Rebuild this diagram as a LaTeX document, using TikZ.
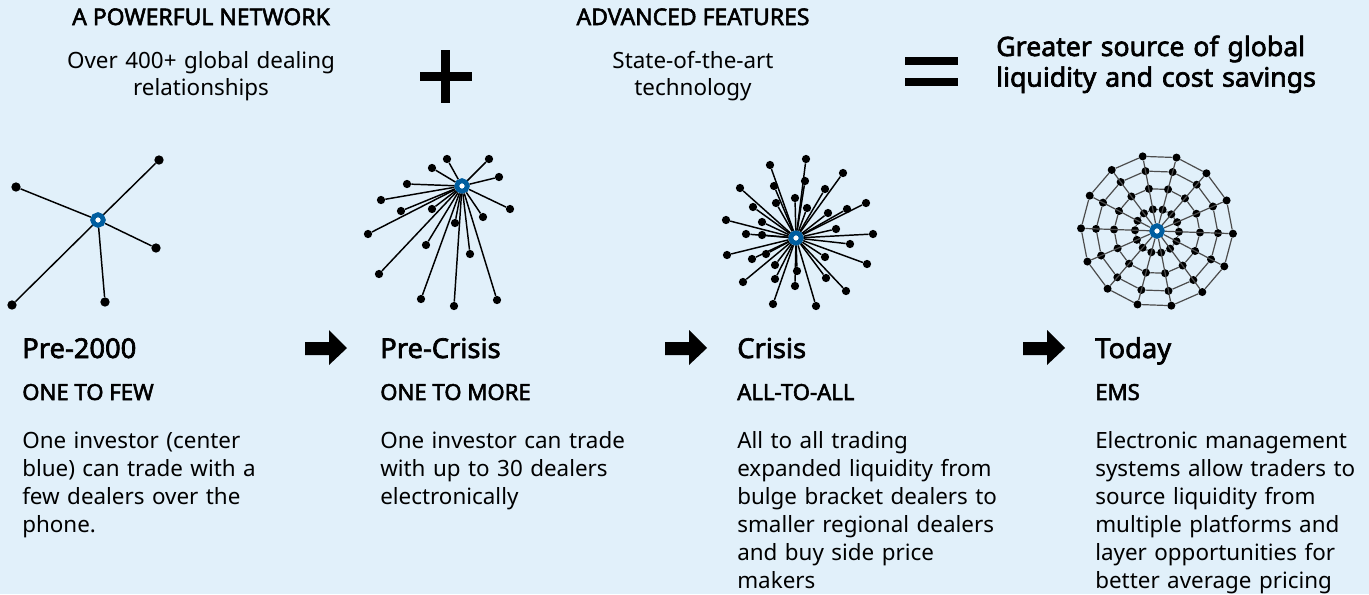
\documentclass[tikz,border=0pt]{standalone}
\usepackage{fontspec}
\setmainfont{Noto Sans}[BoldFont={Noto Sans},BoldFeatures={FakeBold=2.4}]
\definecolor{bgblue}{RGB}{225,240,250}
\definecolor{hubblue}{RGB}{0,94,160}
\begin{document}
\begin{tikzpicture}[x=0.75pt,y=-0.75pt,
  hub/.style={circle,fill=white,draw=hubblue,line width=3.6pt,inner sep=0pt,minimum size=8pt},
  bigdot/.style={circle,fill=black,inner sep=0pt,minimum size=7pt},
  dot/.style={circle,fill=black,inner sep=0pt,minimum size=6.2pt},
  wdot/.style={circle,fill=black,inner sep=0pt,minimum size=6pt},
  link/.style={line width=1.1pt,black},
  wlink/.style={line width=0.9pt,black!70},
  hdr/.style={font=\bfseries\fontsize{17.2}{20}\selectfont,anchor=base,inner sep=0pt},
  toptxt/.style={font=\fontsize{16.8}{20.5}\selectfont,anchor=base,align=center,text width=300pt,inner sep=0pt},
  title/.style={font=\bfseries\fontsize{20.5}{24}\selectfont,anchor=base west,inner sep=0pt},
  subt/.style={font=\bfseries\fontsize{16.6}{18}\selectfont,anchor=base west,inner sep=0pt},
  body/.style={font=\fontsize{16.8}{21}\selectfont,anchor=base west,align=left,text width=200pt,inner sep=0pt},
  blockarrow/.style={fill=black}
]
\useasboundingbox (0,0) rectangle (1369,594);
\fill[bgblue] (0,0) rectangle (1369,594);

% ---------- top row ----------
\node[hdr] (h1) at (201,25) {A POWERFUL NETWORK};
\node[toptxt] (t1) at (201,68) {Over 400+ global dealing\\relationships};
\node[hdr] (h2) at (693,25) {ADVANCED FEATURES};
\node[toptxt] (t2) at (693,68) {State-of-the-art\\technology};
\fill (441,50) rectangle (450,103);
\fill (420,72) rectangle (472,81);
\fill (905,57) rectangle (958,65);
\fill (905,78) rectangle (958,86);
\node[font=\bfseries\fontsize{20}{23}\selectfont,anchor=base west,align=left,text width=260pt,inner sep=0pt] (res) at (996,56) {Greater source of global\\liquidity and cost savings};

% ---------- Pre-2000 ----------
\node[hub] (c1) at (98,220) {};
\foreach \n/\x/\y in {a/16/187,b/159/160,c/156/248,d/105/302,e/12/305}{
  \node[bigdot] (p1\n) at (\x,\y) {};
  \draw[link] (c1) -- (p1\n);
}

% ---------- Pre-Crisis ----------
\node[hub] (c2) at (462,186) {};
\foreach \n/\x/\y in {a/447/159,b/489/159,c/432/168,d/499/177,e/407/184,f/381/200,g/401/211,h/432/209,i/510/209,j/483/217,k/455/223,l/368/234,m/426/245,n/470/254,o/379/274,p/421/299,q/454/306,r/497/300}{
  \node[dot] (p2\n) at (\x,\y) {};
  \draw[link] (c2) -- (p2\n);
}

% ---------- Crisis ----------
\node[hub] (c3) at (796,238) {};
\foreach \n/\x/\y in {1/806/159,2/770/165,3/843/173,4/740/188,5/774/186,6/805/181,7/825/189,8/795/198,9/776/203,10/753/207,11/807/208,12/866/203,13/847/209,14/828/213,15/726/220,16/762/222,17/836/229,18/746/234,19/762/235,20/873/234,21/850/244,22/727/255,23/766/254,24/752/259,25/825/257,26/867/264,27/775/265,28/797/271,29/826/278,30/775/279,31/743/282,32/795/286,33/846/291,34/773/304,35/816/306}{
  \node[dot] (p3-\n) at (\x,\y) {};
  \draw[link] (c3) -- (p3-\n);
}

% ---------- Today ----------
\node[hub] (c4) at (1157,231) {};
\foreach \i in {0,...,13}{
  \foreach \r/\k in {22/1,43/2,61/3,76/4}{
    \node[wdot] (w\k-\i) at ({1157+\r*cos(\i*360/14-2)},{231-\r*sin(\i*360/14-2)}) {};
  }
}
\foreach \i [evaluate=\i as \j using {int(mod(\i+1,14))}] in {0,...,13}{
  \draw[wlink] (c4) -- (w4-\i);
  \foreach \k in {1,...,4}{
    \draw[wlink] (w\k-\i) -- (w\k-\j);
  }
}

% ---------- arrows ----------
\foreach \ax in {305,665,1023}{
  \fill[blockarrow] (\ax,342) -- (\ax+24,342) -- (\ax+24,330) -- (\ax+42,348) -- (\ax+24,365) -- (\ax+24,355) -- (\ax,355) -- cycle;
}

% ---------- captions ----------
\node[title] (ti1) at (22,358) {Pre-2000};
\node[subt] (st1) at (22,400) {ONE TO FEW};
\node[body] (b1) at (22,448) {One investor (center\\blue) can trade with a\\few dealers over the\\phone.};

\node[title] (ti2) at (380,358) {Pre-Crisis};
\node[subt] (st2) at (380,400) {ONE TO MORE};
\node[body] (b2) at (380,448) {One investor can trade\\with up to 30 dealers\\electronically};

\node[title] (ti3) at (737,358) {Crisis};
\node[subt] (st3) at (737,400) {ALL-TO-ALL};
\node[body] (b3) at (737,448) {All to all trading\\expanded liquidity from\\bulge bracket dealers to\\smaller regional dealers\\and buy side price\\makers};

\node[title] (ti4) at (1095,358) {Today};
\node[subt] (st4) at (1095,400) {EMS};
\node[body] (b4) at (1095,448) {Electronic management\\systems allow traders to\\source liquidity from\\multiple platforms and\\layer opportunities for\\better average pricing};
\end{tikzpicture}
\end{document}
